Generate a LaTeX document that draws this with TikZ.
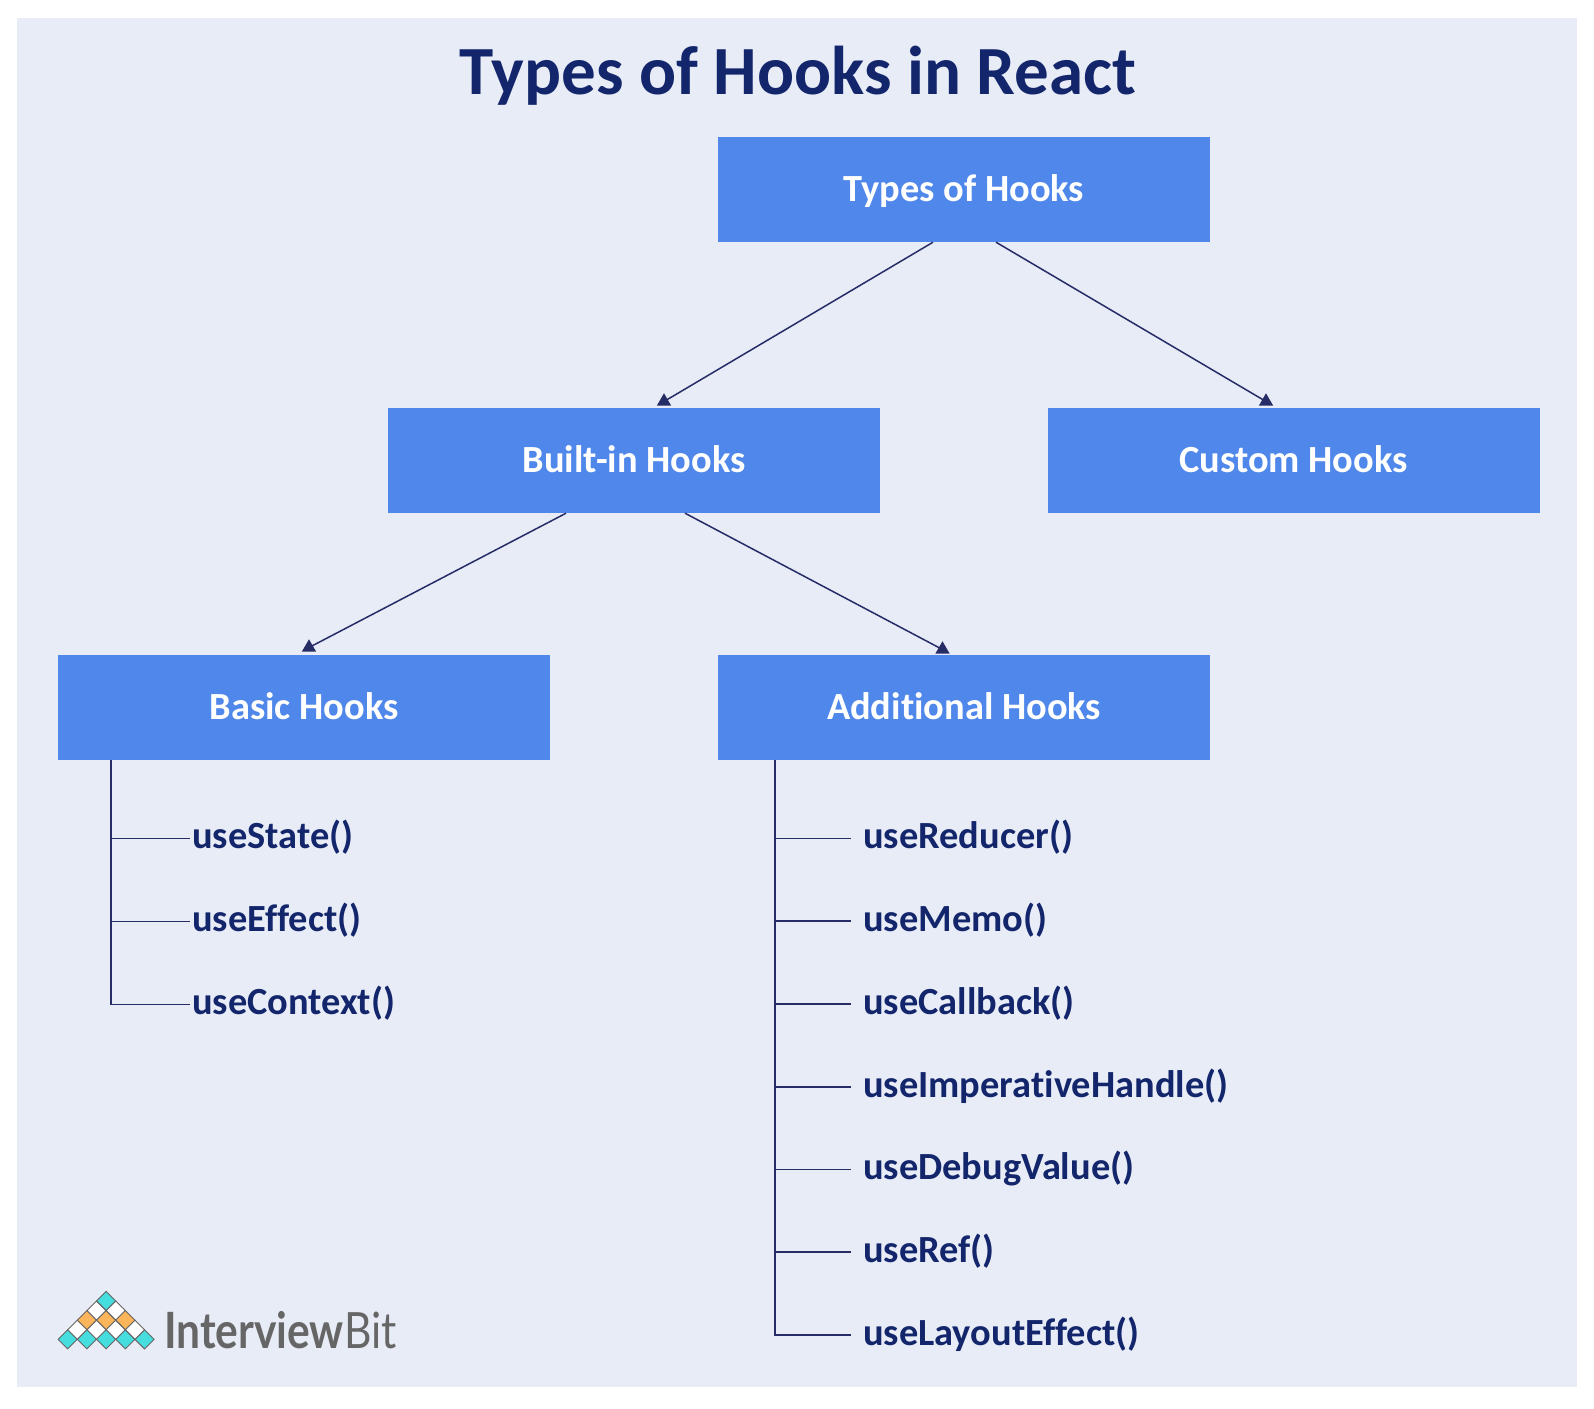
\documentclass[tikz,border=0pt]{standalone}
\usepackage{fontspec}
\setmainfont{Carlito}[Ligatures=NoCommon]
\newfontfamily\logofont{Lato}
\usepackage{xcolor}
\usetikzlibrary{positioning,shapes.geometric}
\definecolor{panelbg}{HTML}{E8ECF7}
\definecolor{boxblue}{HTML}{4F87EA}
\definecolor{navy}{HTML}{13266B}
\definecolor{wire}{HTML}{262C66}
\definecolor{logoteal}{HTML}{46DDDF}
\definecolor{logoorange}{HTML}{FDB55B}
\definecolor{logogray}{HTML}{666666}
\tikzset{
    hookbox/.style={fill=boxblue, text=white, minimum width=492pt, minimum height=105pt, inner sep=0pt, font=\fontsize{38.4}{42}\selectfont\bfseries, text height=28pt, text depth=4pt},
    item/.style={anchor=west, text=navy, inner sep=0pt, font=\fontsize{38.4}{42}\selectfont\bfseries, text height=26pt, text depth=6pt},
    wireline/.style={draw=wire, line width=1.5pt},
    tiphead/.style={regular polygon, regular polygon sides=3, fill=wire, inner sep=0pt, minimum size=16.5pt},
    tile/.style={diamond, draw=logogray, line width=0.9pt, inner sep=0pt, minimum size=19.5pt}
}
\begin{document}
\begin{tikzpicture}[x=1pt, y=-1pt]
    \useasboundingbox (0,0) rectangle (1594,1408);
    \fill[panelbg] (17,18) rectangle (1577,1387);
    \node (title) at (798,76) [text=navy, inner sep=0pt, font=\fontsize{69}{76}\selectfont\bfseries] {Types of Hooks in React};

    \node (types) at (964,189.5) [hookbox] {Types of Hooks};
    \node (builtin) at (634,460.5) [hookbox] {Built-in Hooks};
    \node (custom) at (1293.5,460.5) [hookbox] {Custom Hooks};
    \node (basic) at (304,707) [hookbox] {Basic Hooks};
    \node (additional) at (964,707) [hookbox] {Additional Hooks};

    % arrow heads stay upright
    \node (tipbuiltin) at (664,401.5) [tiphead] {};
    \node (tipcustom) at (1266,401.5) [tiphead] {};
    \node (tipbasic) at (309,647.5) [tiphead] {};
    \node (tipadditional) at (942.5,649.5) [tiphead] {};
    \draw[wireline] ([xshift=-31pt]types.south) -- (tipbuiltin.center);
    \draw[wireline] ([xshift=32pt]types.south) -- (tipcustom.center);
    \draw[wireline] ([xshift=-68pt]builtin.south) -- (tipbasic.center);
    \draw[wireline] ([xshift=51pt]builtin.south) -- (tipadditional.center);

    \node (useState) at (192,838.5) [item] {useState()};
    \node (useEffect) at (192,921.5) [item] {useEffect()};
    \node (useContext) at (192,1004.5) [item] {useContext()};
    \draw[wireline] ([xshift=-193pt]basic.south) |- ([xshift=-2pt]useContext.west);
    \foreach \hook in {useState,useEffect}
        \draw[wireline] (111,0 |- \hook.west) -- ([xshift=-2pt]\hook.west);

    \node (useReducer) at (863,838.5) [item] {useReducer()};
    \node (useMemo) at (863,921) [item] {useMemo()};
    \node (useCallback) at (863,1004) [item] {useCallback()};
    \node (useImperativeHandle) at (863,1087) [item] {useImperativeHandle()};
    \node (useDebugValue) at (863,1169.5) [item] {useDebugValue()};
    \node (useRef) at (863,1252) [item] {useRef()};
    \node (useLayoutEffect) at (863,1335) [item] {useLayoutEffect()};
    \draw[wireline] ([xshift=-189pt]additional.south) |- ([xshift=-12pt]useLayoutEffect.west);
    \foreach \hook in {useReducer,useMemo,useCallback,useImperativeHandle,useDebugValue,useRef}
        \draw[wireline] (775,0 |- \hook.west) -- ([xshift=-12pt]\hook.west);

    % logo
    \foreach \x in {67.7,86.9,106.1,125.3,144.5}
        \node at (\x,1339.3) [tile, fill=logoteal] {};
    \foreach \x in {77.3,96.5,115.7,134.9}
        \node at (\x,1329.7) [tile, fill=white] {};
    \foreach \x in {86.9,106.1,125.3}
        \node at (\x,1320.1) [tile, fill=logoorange] {};
    \foreach \x in {96.5,115.7}
        \node at (\x,1310.5) [tile, fill=white] {};
    \node at (106.1,1300.9) [tile, fill=logoteal] {};
    \node (logo) at (164,1348) [anchor=base west, inner sep=0pt, xscale=0.85, text=logogray, font=\logofont\fontsize{50}{50}\selectfont] {\textbf{Interview}Bit};
\end{tikzpicture}
\end{document}
